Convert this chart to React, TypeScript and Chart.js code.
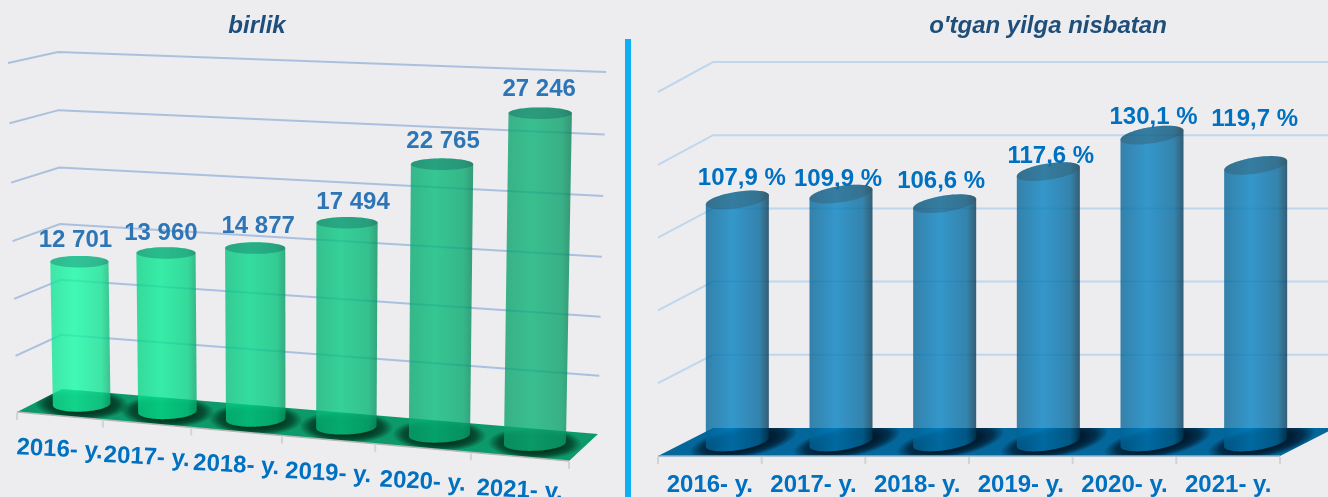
import React, { useEffect, useRef } from "react";
import { Chart, registerables } from "chart.js";

Chart.register(...registerables);

const categories = ["2016- y.", "2017- y.", "2018- y.", "2019- y.", "2020- y.", "2021- y."];
const unitValues = [12701, 13960, 14877, 17494, 22765, 27246];
const percentValues = [107.9, 109.9, 106.6, 117.6, 130.1, 119.7];
const unitTitle = "birlik";
const percentTitle = "o'tgan yilga nisbatan";

const unitColors = ["#15fba5", "#08eb95", "#05d78c", "#07c883", "#07bb7c", "#0cb278"];
const percentColors = ["#007fc0", "#007fc0", "#007fc0", "#007fc0", "#007fc0", "#007fc0"];

const formatUnits = (v: number) => String(v).replace(/\B(?=(\d{3})+$)/g, " ");
const formatPercent = (v: number) => v.toFixed(1).replace(".", ",") + " %";

type Pt = [number, number];
type Panel = any;

const FONT = "'Liberation Sans', Arial, sans-serif";

const leftPanel: Panel = {
  canvasX: 0,
  canvasW: 625,
  title: unitTitle,
  titleCenter: 257,
  titleSize: 24,
  values: unitValues,
  colors: unitColors,
  format: formatUnits,
  min: 0,
  max: 30000,
  step: 5000,
  area: { left: 17, right: 56, top: 63, bottom: 412 },
  warp: 0.08,
  hWarp: 0.042,
  widthTaper: 0.07,
  // front-left, front-right, back-left, back-right at floor; then at the top
  corners: [[17, 412], [569, 461], [62, 389], [598, 434], [8, 63], [575, 89], [58, 52], [606, 72]] as Pt[],
  barPct: 0.685,
  alpha: 0.8,
  stops: [[0, 0.9], [0.4, 1], [0.85, 0.9], [1, 0.72]],
  capFill: "rgba(7,77,80,0.3)",
  topB: 5.8, botB: 7.5, topS: 0, botS: -0.04,
  grid: "rgba(130,165,210,0.62)",
  floor: "#0d9a6a",
  shadow: [0, 50, 30],
  shadowR: [47, 16], shadowS: 0.05, shadowC: -0.3, shadowDx: 0,
  edge: "#b4b8b6",
  labelColor: "#2e75b6",
  tickColor: "#0070c0",
  labelNudge: [[-4, -21], [-5, -20], [3, -22], [6, -20.5], [1, -23], [-1, -23.5]] as Pt[],
  tickDy: 34,
  tickRot: 0.05,
};

const ox = 630;
const rightPanel: Panel = {
  canvasX: ox,
  canvasW: 698,
  title: percentTitle,
  titleCenter: 1048 - ox,
  titleSize: 24,
  values: percentValues,
  colors: percentColors,
  format: formatPercent,
  min: 25,
  max: 150,
  step: 25,
  area: { left: 658 - ox, right: 48, top: 92, bottom: 456 },
  warp: 0,
  hWarp: 0,
  widthTaper: 0,
  corners: [[658 - ox, 456], [1280 - ox, 456], [713 - ox, 428], [1335 - ox, 428], [658 - ox, 92], [1280 - ox, 92], [713 - ox, 62], [1335 - ox, 62]] as Pt[],
  barPct: 0.608,
  alpha: 0.78,
  stops: [[0, 0.78], [0.42, 1], [0.85, 0.8], [1, 0.42]],
  capFill: "rgba(50,85,100,0.4)",
  topB: 8.2, botB: 8.2, topS: -0.145, botS: -0.145,
  grid: "rgba(160,200,235,0.6)",
  floor: "#04679c",
  shadow: [0, 25, 45],
  shadowR: [46, 19], shadowS: 0, shadowC: -1.5, shadowDx: 6,
  edge: "#8fb2c8",
  labelColor: "#0070c0",
  tickColor: "#0070c0",
  labelNudge: [[4.5, -21.5], [-3, -15], [-3.5, -22.5], [2.5, -15], [1.5, -17.5], [-1, -46]] as Pt[],
  tickDy: 29.5,
  tickRot: 0,
};

const lerp = (a: number, b: number, t: number) => a + (b - a) * t;

function project(p: Panel, u: number, d: number, h: number): Pt {
  const w = u + p.warp * u * (u - 1);
  const v = h + p.hWarp * h * (h - 1);
  const c: Pt[] = p.corners;
  const at = (i: number) => {
    const f0 = lerp(c[0][i], c[1][i], w);
    const b0 = lerp(c[2][i], c[3][i], w);
    const f1 = lerp(c[4][i], c[5][i], w);
    const b1 = lerp(c[6][i], c[7][i], w);
    return lerp(lerp(f0, b0, d), lerp(f1, b1, d), v);
  };
  return [at(0), at(1)];
}

function hexRgb(hex: string) {
  return [1, 3, 5].map((i) => parseInt(hex.slice(i, i + 2), 16));
}

function poly(ctx: CanvasRenderingContext2D, pts: Pt[]) {
  ctx.beginPath();
  pts.forEach((q, i) => (i ? ctx.lineTo(q[0], q[1]) : ctx.moveTo(q[0], q[1])));
  ctx.closePath();
}

function cylinderOf(chart: any, p: Panel, el: any) {
  const xs = chart.scales.x;
  const ys = chart.scales.y;
  const u = (el.x - xs.left) / xs.width;
  const hu = (el.width / 2 / xs.width) * (1 - p.widthTaper * u);
  const h = (ys.bottom - el.y) / (ys.bottom - ys.top);
  return {
    tl: project(p, u - hu, 0.5, h),
    tr: project(p, u + hu, 0.5, h),
    bl: project(p, u - hu, 0.5, 0),
    br: project(p, u + hu, 0.5, 0),
  };
}

function arc(a: Pt, b: Pt, bb: number, s: number, from: number, to: number): Pt[] {
  const cx = (a[0] + b[0]) / 2;
  const cy = (a[1] + b[1]) / 2;
  const r = (b[0] - a[0]) / 2;
  const pts: Pt[] = [];
  for (let i = 0; i <= 48; i++) {
    const t = lerp(from, to, i / 48);
    pts.push([cx + r * Math.cos(t), cy + s * r * Math.cos(t) + bb * Math.sin(t)]);
  }
  return pts;
}

function scenePlugin(p: Panel) {
  return {
    id: "scene",
    beforeDraw(chart: any) {
      const t = chart.titleBlock;
      if (t) {
        t.left = p.titleCenter - 200;
        t.right = p.titleCenter + 200;
      }
      const xs = chart.scales.x;
      const n = categories.length;
      xs.getLabelItems(chart.chartArea).forEach((item: any, i: number) => {
        const q = project(p, (i + 0.5) / n, 0, 0);
        item.textOffset = 0;
        item.options.translation = [q[0], q[1] + p.tickDy];
        item.options.textBaseline = "middle";
        item.options.textAlign = "center";
        item.options.rotation = p.tickRot;
      });
    },
    beforeDatasetsDraw(chart: any) {
      const ctx: CanvasRenderingContext2D = chart.ctx;
      const ys = chart.scales.y;
      const n = categories.length;
      ctx.save();
      // gridlines along the side wall and the back wall
      ctx.strokeStyle = p.grid;
      ctx.lineWidth = 2;
      ys.ticks.forEach((tk: any) => {
        const h = (ys.getPixelForValue(tk.value) - ys.bottom) / (ys.top - ys.bottom);
        if (h < 0.001) return;
        const a = project(p, 0, 0, h);
        const b = project(p, 0, 1, h);
        const c = project(p, 1, 1, h);
        ctx.beginPath();
        ctx.moveTo(a[0], a[1]);
        ctx.lineTo(b[0], b[1]);
        ctx.lineTo(c[0], c[1]);
        ctx.stroke();
      });
      // floor
      const fl = [project(p, 0, 0, 0), project(p, 1, 0, 0), project(p, 1, 1, 0), project(p, 0, 1, 0)];
      poly(ctx, fl);
      ctx.fillStyle = p.floor;
      ctx.fill();
      ctx.save();
      poly(ctx, fl);
      ctx.clip();
      const meta = chart.getDatasetMeta(0);
      meta.data.forEach((el: any) => {
        const cy = cylinderOf(chart, p, el);
        const mx = (cy.bl[0] + cy.br[0]) / 2 + p.shadowDx;
        const my = (cy.bl[1] + cy.br[1]) / 2;
        ctx.save();
        ctx.transform(p.shadowR[0], p.shadowS * p.shadowR[0], p.shadowC * p.shadowR[1], p.shadowR[1], mx, my);
        const g = ctx.createRadialGradient(0, 0, 0.55, 0, 0, 1);
        const [r0, g0, b0] = p.shadow;
        g.addColorStop(0, `rgba(${r0},${g0},${b0},0.95)`);
        g.addColorStop(0.5, `rgba(${r0},${g0},${b0},0.7)`);
        g.addColorStop(1, `rgba(${r0},${g0},${b0},0)`);
        ctx.fillStyle = g;
        ctx.beginPath();
        ctx.arc(0, 0, 1, 0, Math.PI * 2);
        ctx.fill();
        ctx.restore();
      });
      ctx.restore();
      // front edge and tick marks
      ctx.strokeStyle = p.edge;
      ctx.lineWidth = 1.5;
      ctx.beginPath();
      ctx.moveTo(fl[0][0], fl[0][1]);
      ctx.lineTo(fl[1][0], fl[1][1]);
      ctx.stroke();
      ctx.strokeStyle = "#d3d3d6";
      ctx.lineWidth = 2;
      for (let i = 0; i <= n; i++) {
        const q = project(p, i / n, 0, 0);
        ctx.beginPath();
        ctx.moveTo(q[0], q[1] + 1);
        ctx.lineTo(q[0], q[1] + 8);
        ctx.stroke();
      }
      // value labels sit behind the semi-transparent cylinders
      ctx.font = `bold 24px ${FONT}`;
      ctx.fillStyle = p.labelColor;
      ctx.textAlign = "center";
      ctx.textBaseline = "middle";
      meta.data.forEach((el: any, i: number) => {
        const cy = cylinderOf(chart, p, el);
        const nudge = p.labelNudge[i];
        ctx.fillText(
          p.format(p.values[i]),
          (cy.tl[0] + cy.tr[0]) / 2 + nudge[0],
          (cy.tl[1] + cy.tr[1]) / 2 + nudge[1],
        );
      });
      ctx.restore();
    },
    beforeDatasetDraw(chart: any) {
      const ctx: CanvasRenderingContext2D = chart.ctx;
      chart.getDatasetMeta(0).data.forEach((el: any) => {
        const cy = cylinderOf(chart, p, el);
        const top = arc(cy.tl, cy.tr, p.topB, p.topS, Math.PI, Math.PI * 2);
        const bot = arc(cy.bl, cy.br, p.botB, p.botS, 0, Math.PI);
        const x0 = Math.min(cy.tl[0], cy.bl[0]);
        const x1 = Math.max(cy.tr[0], cy.br[0]);
        const g = ctx.createLinearGradient(x0, 0, x1, 0);
        const [r, gg, b] = hexRgb(el.options.backgroundColor);
        p.stops.forEach(([at, f]: number[]) => {
          g.addColorStop(at, `rgba(${Math.round(r * f)},${Math.round(gg * f)},${Math.round(b * f)},${p.alpha})`);
        });
        poly(ctx, [...top, ...bot]);
        ctx.fillStyle = g;
        ctx.fill();
        const capPts = arc(cy.tl, cy.tr, p.topB, p.topS, 0, Math.PI * 2);
        poly(ctx, capPts);
        ctx.fillStyle = p.capFill;
        ctx.fill();
      });
      return false;
    },
  };
}

function PanelChart({ panel }: { panel: Panel }) {
  const ref = useRef<HTMLCanvasElement | null>(null);
  useEffect(() => {
    const titleLine = panel.titleSize * 1.2;
    const titleTop = 26 - titleLine / 2;
    const chart = new Chart(ref.current as HTMLCanvasElement, {
      type: "bar",
      data: {
        labels: categories,
        datasets: [
          {
            data: panel.values,
            backgroundColor: panel.colors,
            barPercentage: panel.barPct,
            categoryPercentage: 1,
          },
        ],
      },
      options: {
        animation: false,
        responsive: false,
        layout: { padding: { left: panel.area.left, right: panel.area.right, top: 0, bottom: 0 } },
        plugins: {
          legend: { display: false },
          tooltip: { enabled: false },
          title: {
            display: true,
            text: panel.title,
            color: "#1f4e79",
            font: { family: FONT, size: panel.titleSize, weight: "bold", style: "italic", lineHeight: 1.2 },
            padding: { top: titleTop, bottom: panel.area.top - titleTop - titleLine },
          },
        },
        scales: {
          x: {
            grid: { display: false },
            border: { display: false },
            ticks: {
              color: panel.tickColor,
              font: { family: FONT, size: 24, weight: "bold" },
              autoSkip: false,
              maxRotation: 0,
              minRotation: 0,
            },
            afterFit(s: any) {
              s.height = 497 - panel.area.bottom;
            },
          },
          y: {
            min: panel.min,
            max: panel.max,
            grid: { display: false },
            border: { display: false },
            ticks: { display: false, stepSize: panel.step },
            afterFit(s: any) {
              s.width = 0;
            },
          },
        },
      },
      plugins: [scenePlugin(panel)],
    } as any);
    return () => chart.destroy();
  }, [panel]);
  return (
    <canvas
      ref={ref}
      width={panel.canvasW}
      height={497}
      style={{ position: "absolute", left: panel.canvasX, top: 0, width: panel.canvasW, height: 497 }}
    />
  );
}

export default function App() {
  useEffect(() => {
    document.body.style.margin = "0";
    document.body.style.background = "#ededf0";
  }, []);
  return (
    <div style={{ position: "relative", width: 1328, height: 497, overflow: "hidden", background: "#ededf0" }}>
      <PanelChart panel={leftPanel} />
      <PanelChart panel={rightPanel} />
      <div style={{ position: "absolute", left: 625, top: 39, width: 6, height: 458, background: "#0db0f5" }} />
    </div>
  );
}
